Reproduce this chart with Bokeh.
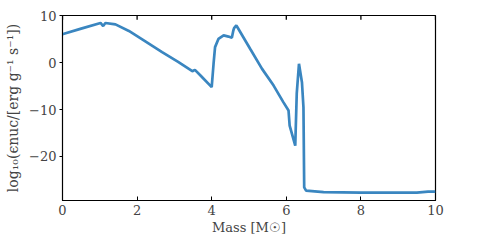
from bokeh.plotting import figure
from bokeh.models import FixedTicker, Range1d
from bokeh.embed import file_html
from bokeh.resources import INLINE

mass = [0.0, 0.04, 0.5, 1.02, 1.09, 1.15, 1.42, 1.78, 2.2, 2.67, 3.1, 3.48, 3.55, 3.7, 4.0,
        4.05, 4.09, 4.18, 4.32, 4.45, 4.54, 4.58, 4.6, 4.66, 4.69, 5.03, 5.35, 5.66, 5.92,
        6.06, 6.09, 6.24, 6.28, 6.34, 6.42, 6.46, 6.48, 6.53, 7.0, 8.0, 9.5, 9.8, 10.0]
log_eps = [6.1, 6.2, 7.3, 8.5, 7.85, 8.5, 8.2, 6.8, 4.7, 2.3, 0.2, -1.8, -1.5, -2.7, -5.2,
           -0.2, 3.35, 5.1, 5.85, 5.6, 5.35, 6.9, 7.4, 8.0, 7.6, 3.0, -1.3, -4.86, -8.4,
           -10.2, -13.4, -17.7, -6.6, -0.2, -4.2, -9.5, -26.6, -27.3, -27.6, -27.7, -27.7, -27.5, -27.5]

x_ticks = [0, 2, 4, 6, 8, 10]
y_ticks = [-20, -10, 0, 10]
y_tick_labels = {-20: "\u221220", -10: "\u221210", 0: "0", 10: "10"}

FONT = "DejaVu Serif"
Y_MIN, Y_MAX = -29.4, 10.1
TOP_TICK_LEN = 0.9  # data units (~4px)

top_y0 = [Y_MAX + 0.5 for _ in x_ticks]
top_y1 = [Y_MAX - TOP_TICK_LEN for _ in x_ticks]

p = figure(width=484, height=242, output_backend="svg", toolbar_location=None,
           x_range=Range1d(0, 10), y_range=Range1d(Y_MIN, Y_MAX),
           min_border_left=62, min_border_right=49, min_border_top=15, min_border_bottom=42)
p.line(mass, log_eps, line_color="#3a86c0", line_width=2.7)

# inward ticks along the top edge
p.segment(x0=list(x_ticks), y0=top_y0, x1=list(x_ticks), y1=top_y1,
          line_color="black", line_width=1.3)

p.grid.visible = False
p.outline_line_color = "black"
p.outline_line_width = 1.2

xa = p.xaxis[0]
xa.ticker = FixedTicker(ticks=x_ticks)
xa.minor_tick_line_color = None
xa.major_tick_in = 4
xa.major_tick_out = 0
xa.axis_label = "Mass [M\u2609]"
xa.axis_label_text_font = FONT
xa.axis_label_text_font_style = "normal"
xa.axis_label_text_font_size = "13px"
xa.major_label_text_font = FONT
xa.major_label_text_font_size = "13px"
xa.axis_label_standoff = 2
xa.major_label_standoff = 4

ya = p.yaxis[0]
ya.ticker = FixedTicker(ticks=y_ticks)
ya.major_label_overrides = y_tick_labels
ya.minor_tick_line_color = None
ya.major_tick_in = 0
ya.major_tick_out = 3
ya.axis_label = "log\u2081\u2080(\u03f5nuc/[erg g\u207b\u00b9 s\u207b\u00b9])"
ya.axis_label_text_font = FONT
ya.axis_label_text_font_style = "normal"
ya.axis_label_text_font_size = "14px"
ya.major_label_text_font = FONT
ya.major_label_text_font_size = "13px"
ya.axis_label_standoff = 5
ya.major_label_standoff = 3

open("out.html", "w").write(file_html(p, INLINE))
